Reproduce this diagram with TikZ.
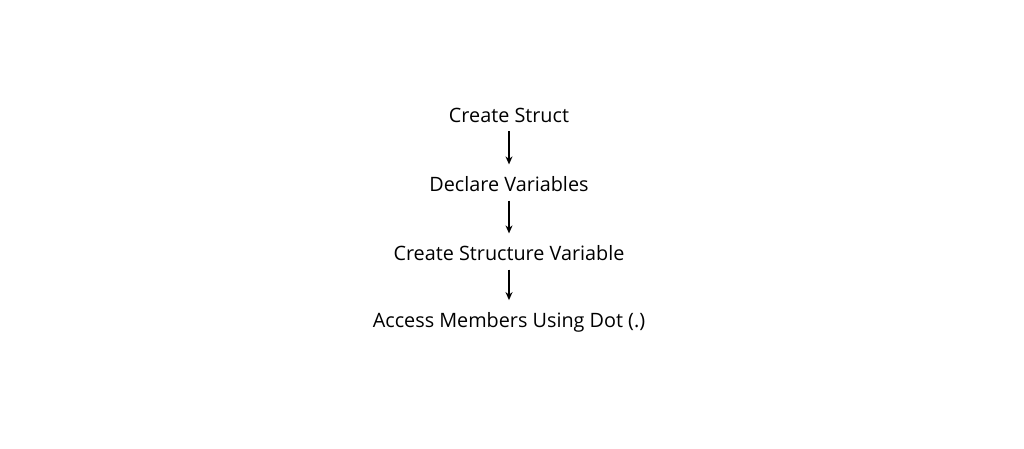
\documentclass[tikz,border=0pt]{standalone}
\usepackage{fontspec}
\setmainfont{Open Sans}
\usepackage{tikz}
\usetikzlibrary{arrows.meta}
\tikzstyle{step box} = [rectangle, inner sep=2pt, text centered,
    font=\fontsize{19.8}{24}\selectfont]

\begin{document}
\begin{tikzpicture}[-{Stealth[length=8pt,width=7pt]},line width=2pt,
                    node distance=69pt,x=1pt,y=1pt]
  \useasboundingbox (0,0) rectangle (1024,-448);

  \node[step box]           (1) at (509,-115) {Create Struct};
  \node[step box]           (2) [below of=1] {Declare Variables};
  \node[step box]           (3) [below of=2] {Create Structure Variable};
  \node[step box]           (4) [below of=3] {Access Members Using Dot (.)};

  \path (1) edge[shorten <=6pt,shorten >=9pt] (2)
  (2) edge[shorten <=6pt,shorten >=9pt] (3)
  (3) edge[shorten <=6pt,shorten >=9pt] (4);
\end{tikzpicture}
\end{document}
